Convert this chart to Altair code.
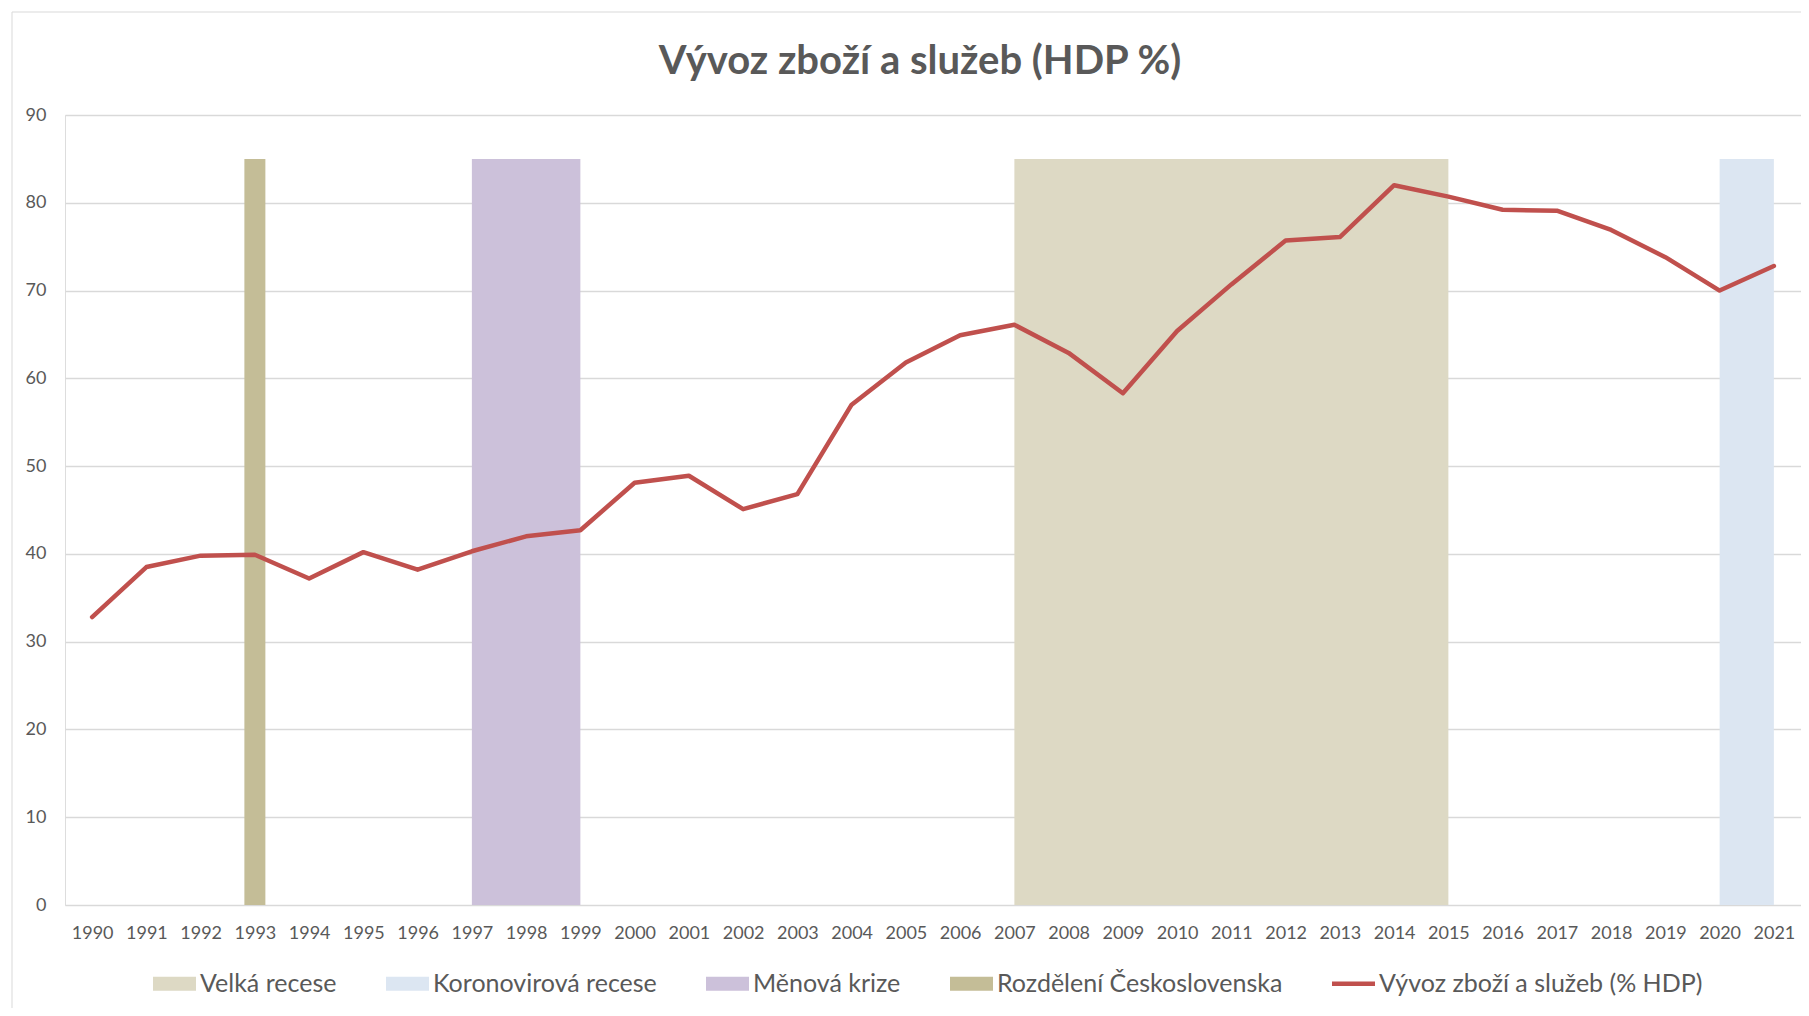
import altair as alt
import pandas as pd

# ---- data ----
years = list(range(1990, 2022))
export_pct = [32.8, 38.5, 39.8, 39.9, 37.2, 40.2, 38.2, 40.3, 42.0, 42.7,
              48.1, 48.9, 45.1, 46.8, 57.0, 61.8, 64.9, 66.1, 62.9, 58.3,
              65.4, 70.7, 75.7, 76.1, 82.0, 80.7, 79.2, 79.1, 76.9, 73.8,
              70.0, 72.8]

band_names = ["Měnová krize", "Velká recese", "Koronovirová recese"]
band_start = [1997, 2007, 2020]
band_end = [1999, 2015, 2021]
band_top = [85, 85, 85]
band_bottom = [0, 0, 0]

split_name = ["Rozdělení Československa"]
split_year = [1993]
split_top = [85]

line_name = "Vývoz zboží a služeb (% HDP)"
legend_order = ["Velká recese", "Koronovirová recese", "Měnová krize",
                "Rozdělení Československa", line_name]
y_ticks = list(range(0, 91, 10))
title_text = "Vývoz zboží a služeb (HDP %)"

# ---- styles ----
GREY_TXT = "#595959"
GRID = "#d9d9d9"
FONT = "Lato"
COL = {"Velká recese": "#DDD9C4", "Koronovirová recese": "#DCE6F2",
       "Měnová krize": "#CCC1DA", "Rozdělení Československa": "#C4BD97",
       line_name: "#C0504D"}
RECT_PATH = "M-1,-0.326H1V0.326H-1Z"
LINE_PATH = "M-1,-0.1H1V0.1H-1Z"
legend_shapes = [RECT_PATH, RECT_PATH, RECT_PATH, RECT_PATH, LINE_PATH]

line_df = pd.DataFrame({"year": years, "value": export_pct})
band_df = pd.DataFrame({"name": band_names, "start": band_start, "end": band_end,
                        "top": band_top, "bottom": band_bottom})
split_df = pd.DataFrame({"name": split_name, "year": split_year, "top": split_top})
legend_df = pd.DataFrame({"series": legend_order})
single_df = pd.DataFrame({"title": [title_text]})

xscale = alt.Scale(domain=[1989.5, 2021.5], nice=False, zero=False, padding=0)
yscale = alt.Scale(domain=[0, 90], nice=False, padding=0)
xaxis = alt.Axis(values=years, format="d", title=None, grid=False, ticks=False,
                 domain=False, labelFont=FONT, labelFontSize=18, labelColor=GREY_TXT,
                 labelPadding=19, labelFlush=False, labelOverlap=False)
yaxis = alt.Axis(values=y_ticks, title=None, grid=True, gridColor=GRID, gridWidth=1.5,
                 ticks=False, domain=False, labelFont=FONT, labelFontSize=18,
                 labelColor=GREY_TXT, labelPadding=19)
cscale = alt.Scale(domain=legend_order, range=[COL[k] for k in legend_order])
sscale = alt.Scale(domain=legend_order, range=legend_shapes)

leg = alt.Legend(orient="none", legendX=88, legendY=847, direction="horizontal",
                 title=None, symbolSize=1849, symbolStrokeWidth=0, symbolOpacity=1,
                 labelFont=FONT, labelFontSize=25, labelColor=GREY_TXT,
                 labelOffset=4, columnPadding=49, labelLimit=1000)

frame = alt.Chart(single_df).mark_rect(fill="white", fillOpacity=0, stroke=GRID,
                                       strokeWidth=1).encode(
    x=alt.value(-53), x2=alt.value(1760), y=alt.value(-103), y2=alt.value(950))

title = alt.Chart(single_df).mark_text(font=FONT, fontSize=40, fontWeight="bold",
                                       color=GREY_TXT, align="center",
                                       baseline="alphabetic").encode(
    text="title:N", x=alt.value(855), y=alt.value(-41))


def band_layer(name):
    return alt.Chart(band_df).transform_filter(alt.datum.name == name).mark_rect(
        color=COL[name]).encode(
        x=alt.X("start:Q", scale=xscale, axis=xaxis),
        x2="end:Q",
        y=alt.Y("top:Q", scale=yscale, axis=yaxis),
        y2="bottom:Q",
    )


bands = [band_layer(n) for n in band_names]

split = alt.Chart(split_df).mark_bar(size=21, orient="vertical",
                                     color=COL["Rozdělení Československa"]).encode(
    x=alt.X("year:Q", scale=xscale, axis=xaxis),
    y=alt.Y("top:Q", scale=yscale, axis=yaxis),
)

line = alt.Chart(line_df).mark_line(color=COL[line_name], strokeWidth=4.5,
                                    strokeCap="round", strokeJoin="round").encode(
    x=alt.X("year:Q", scale=xscale, axis=xaxis),
    y=alt.Y("value:Q", scale=yscale, axis=yaxis),
)

# legend-only layer: its points sit far outside the visible page
legend_layer = alt.Chart(legend_df).mark_point(filled=True, opacity=1).encode(
    x=alt.value(0), y=alt.value(3000),
    color=alt.Color("series:N", scale=cscale, legend=leg),
    shape=alt.Shape("series:N", scale=sscale, legend=leg),
)

chart = alt.layer(frame, *bands, split, line, legend_layer, title).properties(
    width=1736, height=790,
    autosize=alt.AutoSizeParams(type="none"),
    padding={"left": 57, "top": 107, "right": 0, "bottom": 103},
).configure_view(stroke=None).configure(background="white")

chart.save("out.html", embed_options={"renderer": "svg", "actions": False})
